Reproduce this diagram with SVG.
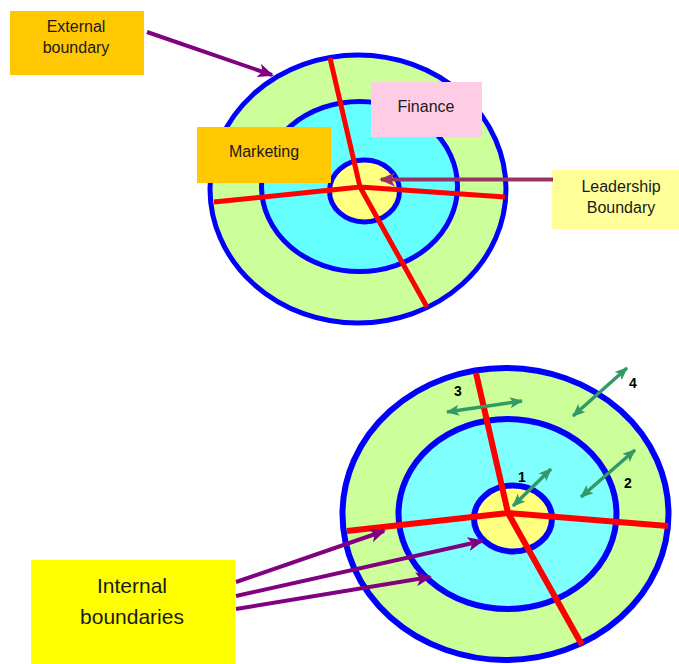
<svg xmlns="http://www.w3.org/2000/svg" width="679" height="664" viewBox="0 0 679 664">
<style>
.ring{stroke:#0000FF;stroke-width:5}
.outer{fill:#CCFF99}
.mid{fill:#66FFFF}
.inner{fill:#FFFF80}
.red{stroke:#FF0000;stroke-width:5;fill:none;stroke-linecap:butt}
.lbl{font-family:"Liberation Sans",Arial,sans-serif;fill:#1a1a1a;text-anchor:middle}
.num{font-family:"Liberation Sans",Arial,sans-serif;font-weight:bold;font-size:14px;fill:#000;text-anchor:middle}
.pa{stroke:#800080;stroke-width:4;fill:none}
.ga{stroke:#339966;stroke-width:3.5;fill:none}
</style>
<defs>
<marker id="pHead" markerUnits="userSpaceOnUse" markerWidth="16" markerHeight="14" refX="14" refY="7" orient="auto">
<path d="M0,0 L16,7 L0,14 L4,7 Z" fill="#800080"/>
</marker>
<marker id="lHead" markerUnits="userSpaceOnUse" markerWidth="16" markerHeight="14" refX="14" refY="7" orient="auto">
<path d="M0,0 L16,7 L0,14 L4,7 Z" fill="#993366"/>
</marker>
<marker id="gEnd" markerUnits="userSpaceOnUse" markerWidth="13" markerHeight="11" refX="12" refY="5.5" orient="auto">
<path d="M0,0 L13,5.5 L0,11 L3,5.5 Z" fill="#339966"/>
</marker>
<marker id="gStart" markerUnits="userSpaceOnUse" markerWidth="13" markerHeight="11" refX="1" refY="5.5" orient="auto">
<path d="M13,0 L0,5.5 L13,11 L10,5.5 Z" fill="#339966"/>
</marker>
</defs>

<!-- Top diagram -->
<g id="top-target">
<ellipse class="ring outer" cx="358" cy="189" rx="148" ry="134"/>
<ellipse class="ring mid" cx="359.5" cy="186.5" rx="98" ry="85"/>
<ellipse class="ring inner" cx="364.5" cy="191" rx="35" ry="31"/>
<path class="red" d="M330,58 L360,187 M214,202 L360,187 L505,197 M360,187 L427,307"/>
</g>

<g id="finance">
<rect x="371" y="82" width="111" height="55" fill="#FFCCE6"/>
<text class="lbl" x="426" y="112" font-size="16" fill="#404040">Finance</text>
</g>

<g id="marketing">
<rect x="197" y="127" width="134" height="56" fill="#FFC800"/>
<text class="lbl" x="264" y="157" font-size="16">Marketing</text>
</g>

<g id="external-boundary">
<rect x="10" y="11" width="134" height="64" fill="#FFC800"/>
<text class="lbl" x="76" y="32" font-size="16">External</text>
<text class="lbl" x="76" y="53" font-size="16">boundary</text>
</g>

<g id="leadership-boundary">
<rect x="552" y="170" width="127" height="59" fill="#FFFF99"/>
<text class="lbl" x="621" y="192" font-size="16">Leadership</text>
<text class="lbl" x="621" y="213" font-size="16">Boundary</text>
</g>

<!-- Bottom diagram -->
<g id="bottom-target">
<ellipse class="ring outer" cx="505.5" cy="514" rx="163" ry="146" style="stroke-width:6"/>
<ellipse class="ring mid" cx="507.5" cy="514" rx="109" ry="95" style="stroke-width:6;fill:#80FFFF"/>
<ellipse class="ring inner" cx="513" cy="518.5" rx="39" ry="33" style="stroke-width:6"/>
<path class="red" style="stroke-width:6" d="M476,373 L508,513 M347,531 L508,513 L668,526 M508,513 L582,645"/>
</g>

<g id="internal-boundaries">
<rect x="31" y="560" width="204" height="104" fill="#FFFF00"/>
<text class="lbl" x="132" y="593" font-size="21">Internal</text>
<text class="lbl" x="132" y="624" font-size="21">boundaries</text>
</g>

<g id="numbers">
<text class="num" x="458" y="396">3</text>
<text class="num" x="633" y="388">4</text>
<text class="num" x="522" y="482">1</text>
<text class="num" x="628" y="488">2</text>
</g>

<g id="connectors">
<line class="pa" x1="147" y1="32" x2="272" y2="75" marker-end="url(#pHead)"/>
<line x1="553" y1="179.5" x2="381" y2="179.5" stroke="#993366" stroke-width="4" marker-end="url(#lHead)"/>
<line class="pa" x1="236" y1="582" x2="384" y2="531" marker-end="url(#pHead)"/>
<line class="pa" x1="236" y1="596" x2="482" y2="541" marker-end="url(#pHead)"/>
<line class="pa" x1="236" y1="609" x2="430" y2="577" marker-end="url(#pHead)"/>
<line class="ga" x1="447" y1="412" x2="522" y2="401" marker-start="url(#gStart)" marker-end="url(#gEnd)"/>
<line class="ga" x1="573" y1="416" x2="627" y2="368" marker-start="url(#gStart)" marker-end="url(#gEnd)"/>
<line class="ga" x1="513" y1="506" x2="551" y2="469" marker-start="url(#gStart)" marker-end="url(#gEnd)"/>
<line class="ga" x1="581" y1="497" x2="635" y2="450" marker-start="url(#gStart)" marker-end="url(#gEnd)"/>
</g>
</svg>
